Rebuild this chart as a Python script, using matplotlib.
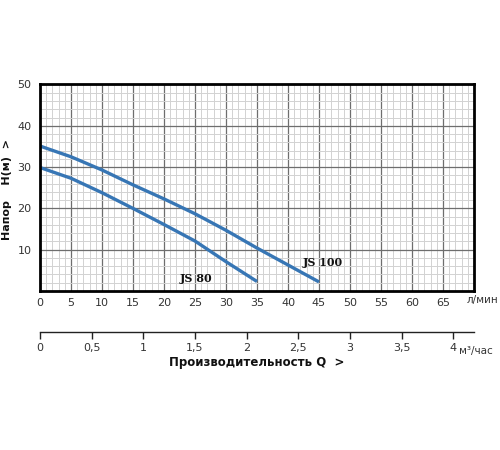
import numpy as np
import matplotlib.pyplot as plt
from matplotlib.ticker import MultipleLocator, FixedLocator, FuncFormatter

# Pump curves: flow (l/min) vs head (m)
q_js80 = [0, 5, 10, 15, 20, 25, 30, 35]
h_js80 = [29.9, 27.3, 23.8, 20.0, 16.1, 12.1, 7.1, 2.3]

q_js100 = [0, 5, 10, 15, 20, 25, 30, 35, 40, 45]
h_js100 = [35.1, 32.5, 29.3, 25.7, 22.3, 18.7, 14.7, 10.4, 6.3, 2.2]

x_ticks = list(range(0, 70, 5))
y_ticks = [10, 20, 30, 40, 50]
q_m3_ticks = [0, 0.5, 1, 1.5, 2, 2.5, 3, 3.5, 4]

label_color = '#333333'
curve_color = '#3776b5'

fig = plt.figure(figsize=(5, 4.5), dpi=100)
ax = fig.add_axes([0.08, 1 - 291 / 450, 0.868, (291 - 84.5) / 450])

# grid
ax.set_xlim(0, 70)
ax.set_ylim(0, 50)
ax.xaxis.set_major_locator(MultipleLocator(5))
ax.xaxis.set_minor_locator(MultipleLocator(1))
ax.yaxis.set_major_locator(MultipleLocator(10))
ax.yaxis.set_minor_locator(MultipleLocator(2))
ax.grid(which='minor', color='#d2d2d2', linewidth=0.7)
ax.grid(which='major', color='#6e6e6e', linewidth=0.9)
ax.set_axisbelow(True)

for s in ax.spines.values():
    s.set_linewidth(2)
    s.set_color('black')

# curves
ax.plot(q_js80, h_js80, color=curve_color, lw=2.4, solid_capstyle='butt')
ax.plot(q_js100, h_js100, color=curve_color, lw=2.4, solid_capstyle='butt')

ax.text(25.2, 3.1, 'JS 80', fontsize=8, fontweight='bold', family='DejaVu Serif',
        ha='center', va='center', color='#111111')
ax.text(45.6, 7.0, 'JS 100', fontsize=8, fontweight='bold', family='DejaVu Serif',
        ha='center', va='center', color='#111111')

# tick labels
ax.set_xticks(x_ticks)
ax.set_yticks(y_ticks)
ax.tick_params(which='both', length=0)
ax.tick_params(axis='x', pad=5, labelsize=8, labelcolor=label_color)
ax.tick_params(axis='y', pad=6, labelsize=8, labelcolor=label_color)
ax.text(0.984, -0.043, 'л/мин', transform=ax.transAxes, fontsize=7.5,
        color=label_color, ha='left', va='center')

ax.set_ylabel('Напор    H(м)  >', fontsize=8, fontweight='bold',
              color='#111111')
ax.yaxis.set_label_coords(-0.064, 0.49)

# second flow scale in m3/h
sec = ax.secondary_xaxis(-(332 - 291) / (291 - 84.5),
                         functions=(lambda q: q * 0.06, lambda m: m / 0.06))
sec.xaxis.set_major_locator(FixedLocator(q_m3_ticks))
sec.xaxis.set_major_formatter(FuncFormatter(lambda v, p: f'{v:g}'.replace('.', ',')))
sec.tick_params(length=5, width=1, color='#222222', pad=3, labelsize=8,
                labelcolor=label_color)
sec.spines['bottom'].set_linewidth(1)
sec.spines['bottom'].set_color('#222222')
sec.set_xlabel('Производительность Q  >', fontsize=8.5, fontweight='bold',
               color='#111111', labelpad=2)
ax.text(0.966, -0.29, 'м³/час', transform=ax.transAxes, fontsize=7.5,
        color=label_color, ha='left', va='center')

fig.savefig('out.png', dpi=100)
